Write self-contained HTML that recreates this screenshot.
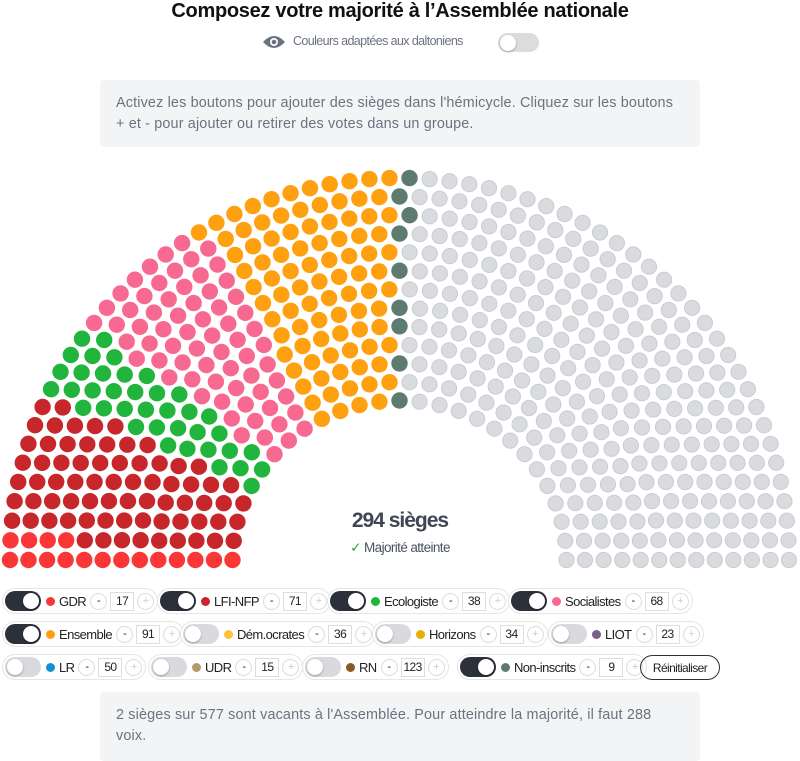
<!DOCTYPE html>
<html><head><meta charset="utf-8">
<style>
*{box-sizing:border-box;margin:0;padding:0}
body{width:800px;height:761px;background:#fff;position:relative;overflow:hidden;font-family:"Liberation Sans",sans-serif}
.cond{font-family:"Liberation Sans Narrow","Liberation Sans",sans-serif;letter-spacing:-0.6px;white-space:nowrap}
.title{position:absolute;top:0;left:0;width:800px;text-align:center;font-weight:bold;font-size:20px;color:#111;letter-spacing:-0.3px}
.box{position:absolute;left:100px;width:600px;background:#f3f4f6;border-radius:4px;color:#6b7280;font-size:14.4px;line-height:21px;padding:13px 16px;letter-spacing:0.15px}
.pill{position:absolute;height:26px;border:1.5px solid #e6e6e6;border-radius:14px;display:flex;align-items:center;padding:0 3px 0 2px;font-size:13px;color:#222;background:#fff}
.tg{width:36px;height:20px;border-radius:10px;position:relative;margin-right:5px;flex:none}
.tg.on{background:#2b303b}.tg.off{background:#d8dade}
.tg::after{content:"";position:absolute;top:2px;width:16px;height:16px;border-radius:50%;background:#fff;box-shadow:0 1px 2px rgba(0,0,0,.3)}
.tg.on::after{left:18px}.tg.off::after{left:2px}
.dot{width:9px;height:9px;border-radius:50%;margin-right:4px;flex:none}
.lab{margin-right:4px}
.mn,.pl{width:17px;height:17px;border-radius:50%;border:1px solid #ddd;font-size:11px;display:flex;align-items:center;justify-content:center;flex:none}
.pl{color:#ccc}
.num{width:24px;height:19px;border:1px solid #ddd;margin:0 3px;font-size:12px;display:flex;align-items:center;justify-content:center;flex:none}
</style></head><body>
<div class="title">Composez votre majorité à l’Assemblée nationale</div>
<svg style="position:absolute;left:262px;top:34px" width="24" height="16" viewBox="0 0 24 16"><path d="M1 8 Q12 -4 23 8 Q12 20 1 8Z" fill="#6b7280"/><circle cx="12" cy="8" r="4" fill="#fff"/><circle cx="12" cy="8" r="2.3" fill="#6b7280"/></svg>
<div style="position:absolute;left:293px;top:34px;font-size:12.5px;color:#6b7280" class="cond">Couleurs adaptées aux daltoniens</div>
<div class="tg off" style="position:absolute;left:498px;top:33px;width:41px;height:19px;background:#dcdcdc"></div>
<div class="box" style="top:80px;height:67px">Activez les boutons pour ajouter des sièges dans l'hémicycle. Cliquez sur les boutons + et - pour ajouter ou retirer des votes dans un groupe.</div>
<svg id="hc" style="position:absolute;left:0;top:0" width="800" height="580"></svg>
<div class="cond" style="position:absolute;left:300px;top:509px;width:200px;text-align:center;font-size:21px;color:#3f4655;font-weight:bold;letter-spacing:-1px">294 sièges</div>
<div class="cond" style="position:absolute;left:300px;top:540px;width:200px;text-align:center;font-size:13.5px;color:#4b5263"><span style="color:#22a33a">✓</span> Majorité atteinte</div>
<div id="leg"></div>
<div class="box" style="top:692px;height:69px">2 sièges sur 577 sont vacants à l'Assemblée. Pour atteindre la majorité, il faut 288 voix.</div>
<script>
var cx=399.5,cy=560,R=389.5,r0=167,rows=13,N=577;
var radii=[],sum=0;for(var i=0;i<rows;i++){var rr=r0+(R-r0)*i/(rows-1);radii.push(rr);sum+=rr;}
var counts=radii.map(function(rr){return Math.floor(N*rr/sum)});
var tot=counts.reduce(function(a,b){return a+b},0);
var rem=radii.map(function(rr,i){return [N*rr/sum-counts[i],i]}).sort(function(a,b){return b[0]-a[0]});
for(var k=0;k<N-tot;k++)counts[rem[k][1]]++;
var seats=[];
for(var i=0;i<rows;i++){var n=counts[i];var ry=radii[i]-7.5;for(var j=0;j<n;j++){var a=Math.PI-Math.PI*j/(n-1);seats.push({a:a,x:cx+radii[i]*Math.cos(a),y:cy-ry*Math.sin(a),row:i});}}
seats.sort(function(p,q){return q.a-p.a||p.row-q.row});
var groups=[[17,"#fb3636"],[71,"#c7262b"],[38,"#22b53e"],[68,"#f76990"],[91,"#ffa010"],[9,"#5e7b70"]];
var cols=[];groups.forEach(function(g){for(var i=0;i<g[0];i++)cols.push(g[1])});
var s="";seats.forEach(function(p,i){var c=cols[i];if(c)s+='<circle cx="'+p.x.toFixed(1)+'" cy="'+p.y.toFixed(1)+'" r="8.2" fill="'+c+'"/>';else s+='<circle cx="'+p.x.toFixed(1)+'" cy="'+p.y.toFixed(1)+'" r="7.6" fill="#d9dbdf" stroke="#c9ccd1" stroke-width="1"/>';});
document.getElementById("hc").innerHTML=s;
var L=[
[2,588,1,"#fb3636","GDR",17],[157,588,1,"#c7262b","LFI-NFP",71],[327,588,1,"#22b53e","Ecologiste",38],[508,588,1,"#f76990","Socialistes",68],
[2,621,1,"#ffa010","Ensemble",91],[180,621,0,"#ffc03a","Dém.ocrates",36],[372,621,0,"#e6b000","Horizons",34],[548,621,0,"#7a5e8a","LIOT",23],
[2,654,0,"#1192d0","LR",50],[148,654,0,"#b59a70","UDR",15],[302,654,0,"#8a5a20","RN",123],[457,654,1,"#5e7b70","Non-inscrits",9]];
var h="";L.forEach(function(p){h+='<div class="pill cond" style="left:'+p[0]+'px;top:'+p[1]+'px"><div class="tg '+(p[2]?'on':'off')+'"></div><div class="dot" style="background:'+p[3]+'"></div><span class="lab">'+p[4]+'</span><div class="mn">-</div><div class="num">'+p[5]+'</div><div class="pl">+</div></div>';});
h+='<div class="cond" style="position:absolute;left:640px;top:655px;width:80px;height:25px;border:1.5px solid #2b303b;border-radius:13px;font-size:12px;display:flex;align-items:center;justify-content:center;color:#222">Réinitialiser</div>';
document.getElementById("leg").innerHTML=h;
</script>
</body></html>
